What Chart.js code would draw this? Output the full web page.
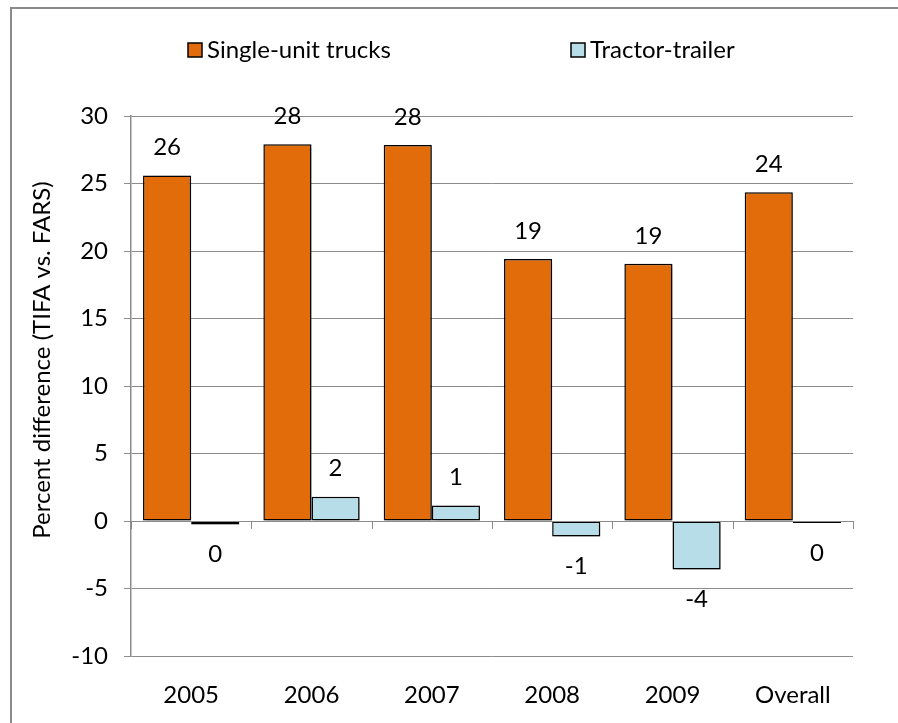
<!DOCTYPE html>
<html>
<head>
<meta charset="utf-8">
<script src="https://cdn.jsdelivr.net/npm/chart.js@4/dist/chart.umd.min.js"></script>
<style>
  html, body { margin: 0; padding: 0; background: #fff; overflow: hidden; }
  canvas { display: block; }
</style>
</head>
<body>
<canvas id="c" width="898" height="723"></canvas>
<script>
// ---- data ----
const categories = ['2005', '2006', '2007', '2008', '2009', 'Overall'];
const seriesNames = ['Single-unit trucks', 'Tractor-trailer'];
const singleUnit = [25.6, 27.9, 27.85, 19.4, 19.05, 24.35];
const tractorTrailer = [-0.25, 1.8, 1.15, -1.15, -3.6, -0.15];
const yMin = -10;
const yMax = 30;
const yStep = 5;
const yTitle = 'Percent difference (TIFA vs. FARS)';

// ---- style ----
const FONT = 'Lato, "Open Sans", sans-serif';
const FS = 24;
const ORANGE = '#E36C0A';
const BLUE = '#B7DDE8';
const GRID = '#8c8c8c';

const framePlugin = {
  id: 'frame',
  beforeDraw(chart) {
    const ctx = chart.ctx;
    ctx.save();
    ctx.strokeStyle = '#8a8a8a';
    ctx.lineWidth = 2;
    ctx.beginPath();
    ctx.moveTo(11, chart.height);
    ctx.lineTo(11, 8);
    ctx.lineTo(chart.width, 8);
    ctx.stroke();
    ctx.restore();
  }
};

const shadowPlugin = {
  id: 'shadow',
  beforeDatasetsDraw(chart) {
    const ctx = chart.ctx;
    ctx.save();
    ctx.shadowColor = 'rgba(0,0,0,0.35)';
    ctx.shadowBlur = 4;
    ctx.shadowOffsetX = 2;
    ctx.shadowOffsetY = 2;
  },
  afterDatasetsDraw(chart) {
    chart.ctx.restore();
  }
};

const axisTicksPlugin = {
  id: 'zeroAxisTicks',
  afterDatasetsDraw(chart) {
    const ctx = chart.ctx;
    const xs = chart.scales.x, ys = chart.scales.y;
    const y0 = ys.getPixelForValue(0);
    ctx.save();
    ctx.strokeStyle = GRID;
    ctx.lineWidth = 1;
    ctx.beginPath();
    ctx.moveTo(chart.chartArea.left, y0 + 0.5);
    ctx.lineTo(chart.chartArea.right, y0 + 0.5);
    for (let i = 0; i <= categories.length; i++) {
      const x = Math.round(xs.getPixelForValue(i - 0.5)) + 0.5;
      ctx.moveTo(x, y0);
      ctx.lineTo(x, y0 + 8);
    }
    ctx.stroke();
    ctx.restore();
  }
};

const labelsPlugin = {
  id: 'valueLabels',
  afterDatasetsDraw(chart) {
    const ctx = chart.ctx;
    ctx.save();
    ctx.font = FS + 'px ' + FONT;
    ctx.fillStyle = '#000';
    ctx.textAlign = 'center';
    ctx.textBaseline = 'middle';
    chart.data.datasets.forEach((ds, di) => {
      const meta = chart.getDatasetMeta(di);
      meta.data.forEach((bar, i) => {
        const v = ds.data[i];
        const r = Math.round(v);
        const txt = String(r === 0 ? 0 : r);
        const y = v >= 0 ? bar.y - 28 : bar.y + 30;
        ctx.fillText(txt, bar.x, y);
      });
    });
    ctx.restore();
  }
};

const decorPlugin = {
  id: 'decor',
  afterDraw(chart) {
    const ctx = chart.ctx;
    ctx.save();
    const items = [
      { x: 188, color: ORANGE, text: seriesNames[0] },
      { x: 571, color: BLUE, text: seriesNames[1] }
    ];
    ctx.font = FS + 'px ' + FONT;
    ctx.textBaseline = 'middle';
    ctx.textAlign = 'left';
    items.forEach(it => {
      ctx.fillStyle = it.color;
      ctx.fillRect(it.x, 43, 14, 14);
      ctx.strokeStyle = '#000';
      ctx.lineWidth = 1.5;
      ctx.strokeRect(it.x, 43, 14, 14);
      ctx.fillStyle = '#000';
      ctx.fillText(it.text, it.x + 19, 50);
    });
    ctx.font = FS + 'px ' + FONT;
    ctx.translate(42, 360);
    ctx.rotate(-Math.PI / 2);
    ctx.textAlign = 'center';
    ctx.fillText(yTitle, 0, 0);
    ctx.restore();
  }
};

new Chart(document.getElementById('c'), {
  type: 'bar',
  data: {
    labels: categories,
    datasets: [
      { label: seriesNames[0], data: singleUnit, backgroundColor: ORANGE,
        borderColor: '#000', borderWidth: 1.5, borderSkipped: false },
      { label: seriesNames[1], data: tractorTrailer, backgroundColor: BLUE,
        borderColor: '#000', borderWidth: 1.5, borderSkipped: false }
    ]
  },
  options: {
    responsive: false,
    animation: false,
    devicePixelRatio: 1,
    layout: { padding: { top: 116, left: 0, right: 45, bottom: 0 } },
    datasets: { bar: { categoryPercentage: 0.8, barPercentage: 1.0 } },
    plugins: {
      legend: { display: false },
      tooltip: { enabled: false }
    },
    scales: {
      x: {
        grid: { display: false },
        border: { display: false },
        ticks: { color: '#000', font: { family: FONT, size: FS }, padding: 17, maxRotation: 0 },
        afterFit(s) { s.height = 67; }
      },
      y: {
        min: yMin, max: yMax,
        grid: { color: GRID, lineWidth: 1, tickLength: 7 },
        border: { display: true, color: GRID, width: 1.5 },
        ticks: { stepSize: yStep, color: '#000', font: { family: FONT, size: FS }, padding: 16 },
        afterFit(s) { s.width = 131; }
      }
    }
  },
  plugins: [framePlugin, shadowPlugin, axisTicksPlugin, labelsPlugin, decorPlugin]
});
</script>
</body>
</html>
